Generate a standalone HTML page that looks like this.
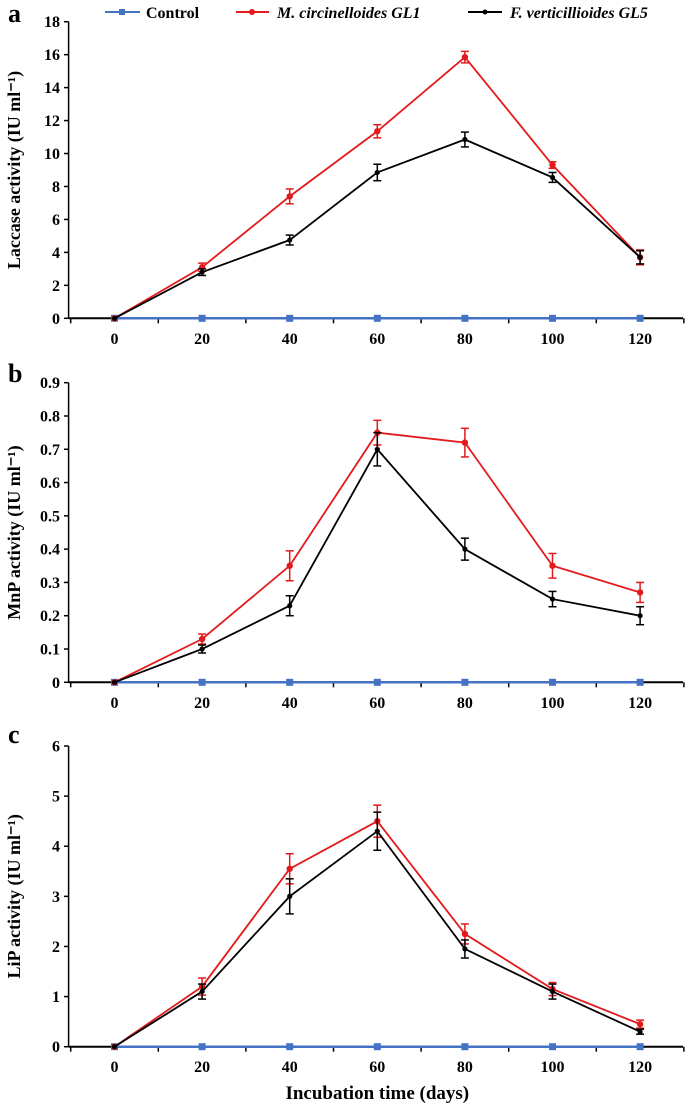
<!DOCTYPE html>
<html><head><meta charset="utf-8"><style>
body{margin:0;background:#fff;}
svg{display:block;font-family:"Liberation Serif",serif;font-weight:bold;}
</style></head><body>
<svg id="fig" width="685" height="1105" viewBox="0 0 685 1105" xmlns="http://www.w3.org/2000/svg">
<g>
<line x1="105" y1="12" x2="140" y2="12" stroke="#4472C4" stroke-width="2"/><rect x="119" y="9" width="6" height="6" fill="#4472C4"/>
<text x="146" y="18" font-size="16">Control</text>
<line x1="236" y1="12" x2="269" y2="12" stroke="#E31A1C" stroke-width="2"/><circle cx="252" cy="12" r="3" fill="#E31A1C"/>
<text x="277" y="18" font-size="16" font-style="italic">M. circinelloides GL1</text>
<line x1="468" y1="12" x2="502" y2="12" stroke="#000" stroke-width="2"/><circle cx="485" cy="12" r="2.5" fill="#000"/>
<text x="510" y="18" font-size="16" font-style="italic">F. verticillioides GL5</text>
</g>
</svg>
<script>
const days=[0,20,40,60,80,100,120];
const aRed=[0,3.1,7.4,11.35,15.85,9.3,3.7];
const aRedErr=[0,0.25,0.45,0.4,0.35,0.2,0.45];
const aBlack=[0,2.8,4.75,8.85,10.85,8.55,3.7];
const aBlackErr=[0,0.2,0.3,0.5,0.45,0.3,0.4];
const aTicks=[0,2,4,6,8,10,12,14,16,18];
const bRed=[0,0.13,0.35,0.75,0.72,0.35,0.27];
const bRedErr=[0,0.015,0.045,0.037,0.043,0.037,0.03];
const bBlack=[0,0.1,0.23,0.7,0.4,0.25,0.2];
const bBlackErr=[0,0.012,0.03,0.05,0.033,0.023,0.027];
const bTicks=["0","0.1","0.2","0.3","0.4","0.5","0.6","0.7","0.8","0.9"];
const cRed=[0,1.2,3.55,4.5,2.25,1.15,0.45];
const cRedErr=[0,0.17,0.3,0.32,0.2,0.13,0.08];
const cBlack=[0,1.1,3.0,4.3,1.95,1.1,0.3];
const cBlackErr=[0,0.15,0.35,0.38,0.18,0.15,0.05];
const cTicks=[0,1,2,3,4,5,6];
const control=[0,0,0,0,0,0,0];

const svg=document.getElementById('fig');
const NS='http://www.w3.org/2000/svg';
function mk(tag,attrs,parent){const e=document.createElementNS(NS,tag);for(const k in attrs)e.setAttribute(k,attrs[k]);parent.appendChild(e);return e;}
const xS=d=>114.5+d*87.6/20;

function panel(name,letter,letterY,top,bottom,ticks,ymax,red,redErr,black,blackErr,title,labelY){
  const g=mk('g',{},svg);
  
  
  const yS=v=>bottom-(v/ymax)*(bottom-top);
  const L=mk('text',{x:8,y:letterY,'font-size':26},g);L.textContent=letter;
  
  
  const ax=mk('g',{},g);
  
  
  mk('line',{x1:68.6,y1:top,x2:68.6,y2:bottom,stroke:'#000','stroke-width':1.5},ax);
  ticks.forEach(t=>{const v=parseFloat(t);const y=yS(v);
    mk('line',{x1:64,y1:y,x2:68.6,y2:y,stroke:'#000','stroke-width':1.5},ax);
    const tx=mk('text',{x:60,y:y+5.5,'font-size':16,'text-anchor':'end'},ax);tx.textContent=t;
    
    });
  const yt=mk('text',{x:0,y:0,'font-size':18,'text-anchor':'middle',transform:`translate(20,${(top+bottom)/2}) rotate(-90)`},g);
  yt.textContent=title;
  
  
  const xa=mk('g',{},g);
  
  
  mk('line',{x1:68.6,y1:bottom,x2:683,y2:bottom,stroke:'#000','stroke-width':2},xa);
  for(let d=-10;d<=130;d+=20){const x=xS(d);mk('line',{x1:x,y1:bottom,x2:x,y2:bottom+5,stroke:'#000','stroke-width':1.5},xa);}
  days.forEach(d=>{const tx=mk('text',{x:xS(d),y:labelY,'font-size':16,'text-anchor':'middle'},xa);tx.textContent=d;
    
    });
  function series(vals,errs,col,nm,shape){
    const s=mk('g',{},g);
    
    
    mk('polyline',{points:vals.map((v,i)=>xS(days[i])+','+yS(v)).join(' '),fill:'none',stroke:col,'stroke-width':shape==='sq'?2.5:1.8},s);
    vals.forEach((v,i)=>{const x=xS(days[i]),y=yS(v);
      if(errs&&errs[i]>0){const e1=yS(v+errs[i]),e2=yS(v-errs[i]);
        mk('line',{x1:x,y1:e1,x2:x,y2:e2,stroke:col,'stroke-width':1.5},s);
        mk('line',{x1:x-4,y1:e1,x2:x+4,y2:e1,stroke:col,'stroke-width':1.5},s);
        mk('line',{x1:x-4,y1:e2,x2:x+4,y2:e2,stroke:col,'stroke-width':1.5},s);}
      let m;
      if(shape==='sq')m=mk('rect',{x:x-3.5,y:y-3.5,width:7,height:7,fill:col},s);
      else m=mk('circle',{cx:x,cy:y,r:shape==='c'?3.2:2.6,fill:col},s);
      
      });
  }
  series(control,null,'#4472C4','series-control','sq');
  series(red,redErr,'#E31A1C','series-gl1','c');
  series(black,blackErr,'#000','series-gl5','d');
}
panel('panel-a-laccase','a',22,21.7,318.3,aTicks.map(String),18,aRed,aRedErr,aBlack,aBlackErr,'Laccase activity (IU ml\u207B\u00B9)',344);
panel('panel-b-mnp','b',382,382.7,682.3,bTicks,0.9,bRed,bRedErr,bBlack,bBlackErr,'MnP activity (IU ml\u207B\u00B9)',708);
panel('panel-c-lip','c',743,746,1046.7,cTicks.map(String),6,cRed,cRedErr,cBlack,cBlackErr,'LiP activity (IU ml\u207B\u00B9)',1072);
const xt=mk('text',{x:xS(60),y:1099,'font-size':19,'text-anchor':'middle'},svg);
xt.textContent='Incubation time (days)';


</script>
</body></html>
